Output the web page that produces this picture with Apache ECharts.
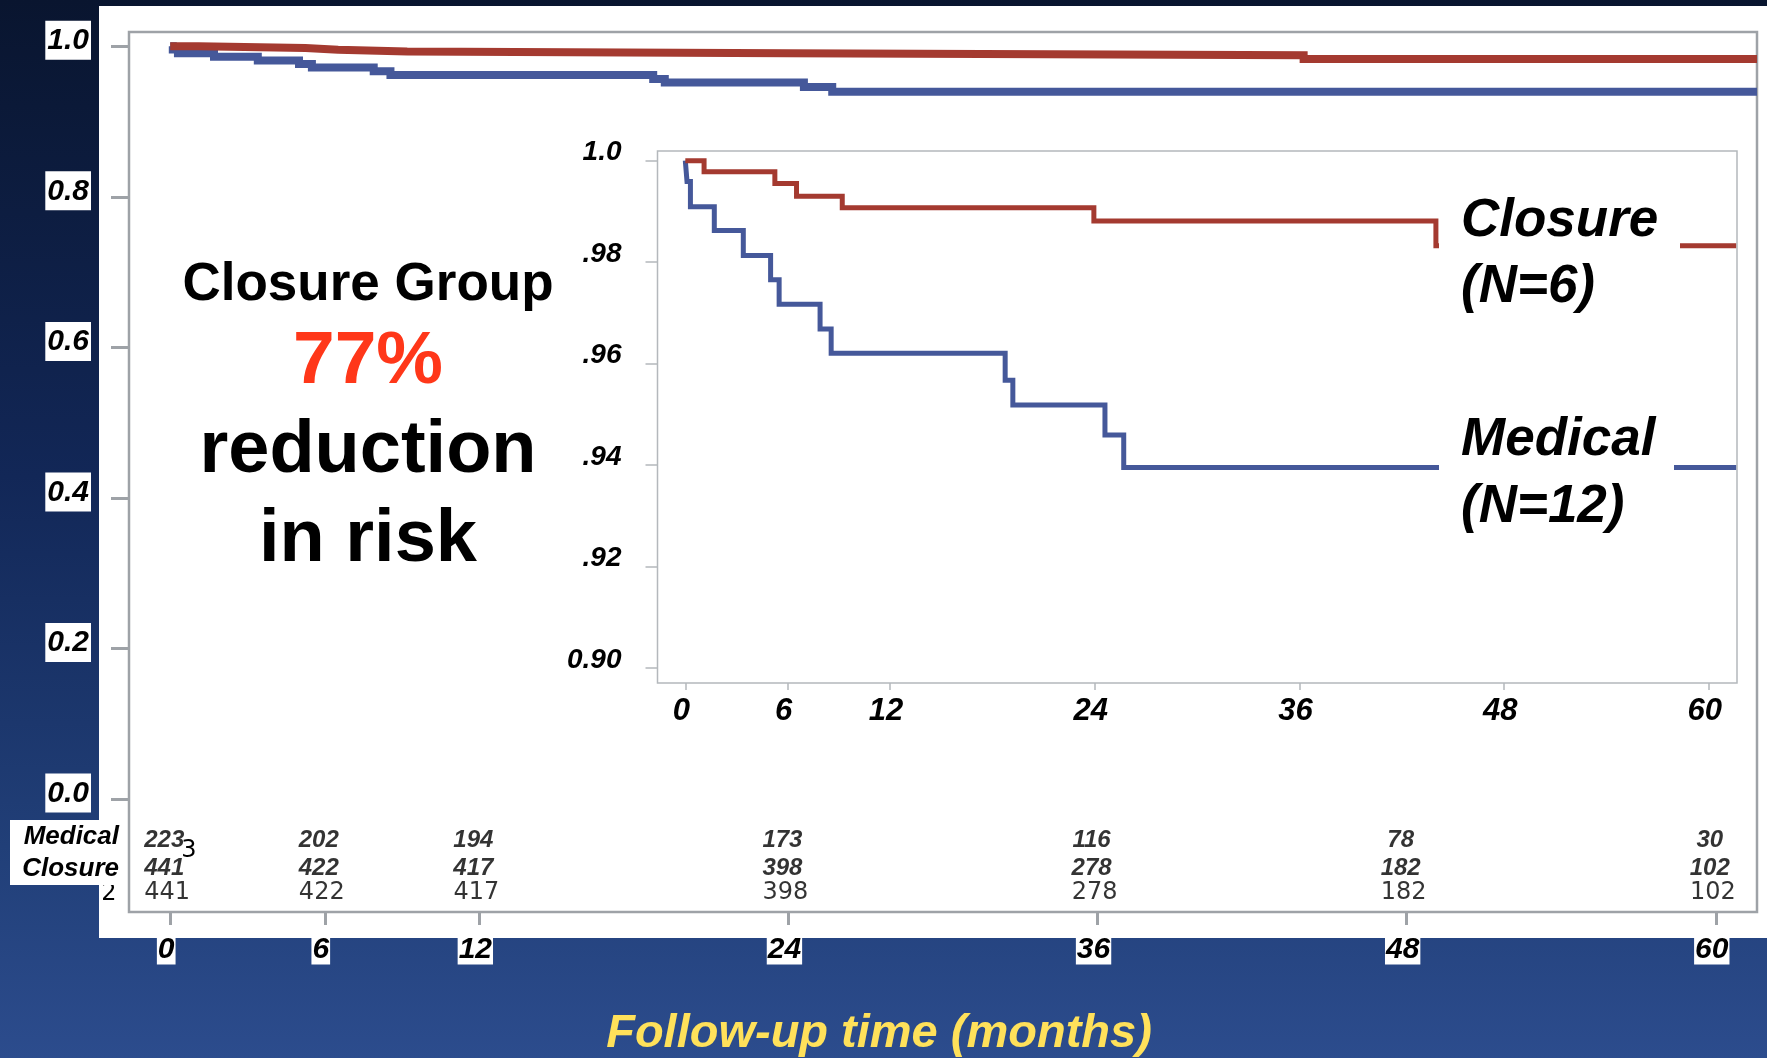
<!DOCTYPE html>
<html><head><meta charset="utf-8">
<script src="https://cdn.jsdelivr.net/npm/echarts@6/dist/echarts.min.js"></script>
<style>
html,body{margin:0;padding:0;width:1767px;height:1058px;overflow:hidden;}
#c{width:1767px;height:1058px;background:linear-gradient(to bottom,#09152f 0%,#122757 45%,#213f78 80%,#2c4c8d 100%);}
</style></head><body><div id="c"></div>
<script>
// ---- data ----
const medicalTime = [0, 0.1, 0.3, 1.7, 3.4, 5.0, 5.5, 7.9, 8.55, 18.75, 19.2, 24.6, 25.7, 61.6];
const medicalSurv = [1.0, 0.9959, 0.9909, 0.9862, 0.9813, 0.9765, 0.9717, 0.9668, 0.9620, 0.9567, 0.9518, 0.9459, 0.9395, 0.9395];
const closureTime = [0, 1.1, 5.25, 6.52, 9.2, 23.95, 44.0, 61.6];
const closureSurv = [1.0, 0.9978, 0.9955, 0.9930, 0.9907, 0.9881, 0.9832, 0.9832];

const xTicks = [0, 6, 12, 24, 36, 48, 60];
const xTickLabels = ['0', '6', '12', '24', '36', '48', '60'];
const outerYTicks = [0, 0.2, 0.4, 0.6, 0.8, 1.0];
const outerYLabels = ['0.0', '0.2', '0.4', '0.6', '0.8', '1.0'];
const innerYTicks = [0.90, 0.92, 0.94, 0.96, 0.98, 1.0];
const innerYLabels = ['0.90', '.92', '.94', '.96', '.98', '1.0'];

const riskMonths = [0, 6, 12, 24, 36, 48, 60];
const riskMedical = [223, 202, 194, 173, 116, 78, 30];
const riskClosure = [441, 422, 417, 398, 278, 182, 102];
const riskClosureRepeat = [441, 422, 417, 398, 278, 182, 102];

// ---- styles ----
const FONT = '"Liberation Sans", Arial, Helvetica, sans-serif';
const RED = '#a43a30';
const BLUE = '#45589a';
const OUTER_GRAY = '#9ea2a7';
const INNER_GRAY = '#b4b8bc';

function lab(ticks, labels, v) {
  for (let i = 0; i < ticks.length; i++) if (Math.abs(ticks[i] - v) < 1e-6) return labels[i];
  return '';
}
function pts(t, s) { return t.map((x, i) => [x, s[i]]); }

const boldItalic = (size, extra) => Object.assign({
  fontFamily: FONT, fontSize: size, fontWeight: 'bold', fontStyle: 'italic', color: '#000', lineHeight: size
}, extra || {});

function lineSeries(name, t, s, color, width, axisIdx, z) {
  return {
    name, type: 'line', step: 'end', xAxisIndex: axisIdx, yAxisIndex: axisIdx,
    data: pts(t, s), showSymbol: false, symbol: 'none', silent: true, z: z,
    lineStyle: { color, width, join: 'miter', cap: 'butt' },
    emphasis: { disabled: true }
  };
}

// risk table rows placed on the outer axes (row levels below 0.0)
const ROW_Y = [-0.0543, -0.0924, -0.1248];
function riskSeries(values, rowY, labelStyle, dx) {
  return {
    type: 'scatter', xAxisIndex: 0, yAxisIndex: 0, symbolSize: 1, silent: true, z: 6,
    itemStyle: { color: 'rgba(0,0,0,0)' },
    data: riskMonths.map((m) => [m, rowY]),
    label: Object.assign({
      show: true, position: 'inside', offset: [dx, 0],
      formatter: (p) => String(values[p.dataIndex])
    }, labelStyle),
    emphasis: { disabled: true }
  };
}

const chart = echarts.init(document.getElementById('c'), null, { renderer: 'canvas' });

const noLine = { show: false, onZero: false };

const option = {
  animation: false,
  backgroundColor: 'transparent',
  grid: [
    { left: 129, top: 32, width: 1628, height: 880, show: true, borderColor: OUTER_GRAY, borderWidth: 2.5, outerBoundsMode: 'none', containLabel: false },
    { left: 657.5, top: 151, width: 1079.5, height: 532, show: true, borderColor: INNER_GRAY, borderWidth: 1.5, outerBoundsMode: 'none', containLabel: false }
  ],
  xAxis: [
    {
      type: 'value', gridIndex: 0, min: -1.6, max: 61.6, position: 'bottom',
      axisLine: noLine, splitLine: { show: false },
      axisTick: { show: true, inside: false, customValues: xTicks, length: 13, lineStyle: { color: OUTER_GRAY, width: 3 } },
      axisLabel: {
        show: true, customValues: xTicks, margin: 22,
        formatter: (v) => '{a|' + lab(xTicks, xTickLabels, v) + '}{t| }',
        rich: {
          a: boldItalic(30, { backgroundColor: '#fff', padding: [1, 1, 0, 1] }),
          t: { width: 8, fontSize: 10 }
        }
      }
    },
    {
      type: 'value', gridIndex: 1, min: -1.63, max: 61.65, position: 'bottom',
      axisLine: noLine, splitLine: { show: false },
      axisTick: { show: true, inside: false, customValues: xTicks, length: 7, lineStyle: { color: INNER_GRAY, width: 1.5 } },
      axisLabel: {
        show: true, customValues: xTicks, margin: 13,
        formatter: (v) => '{a|' + lab(xTicks, xTickLabels, v) + '}{t| }',
        rich: { a: boldItalic(31), t: { width: 8, fontSize: 10 } }
      }
    }
  ],
  yAxis: [
    {
      type: 'value', gridIndex: 0, min: -0.150, max: 1.019, position: 'left',
      axisLine: noLine, splitLine: { show: false },
      axisTick: { show: true, inside: false, customValues: outerYTicks, length: 18, lineStyle: { color: OUTER_GRAY, width: 3 } },
      axisLabel: {
        show: true, customValues: outerYTicks, margin: 38,
        formatter: (v) => '{a|' + lab(outerYTicks, outerYLabels, v) + '}\n{s| }',
        rich: {
          a: boldItalic(30, { backgroundColor: '#fff', padding: [5, 2, 4, 2] }),
          s: { height: 12, lineHeight: 12, fontSize: 8 }
        }
      }
    },
    {
      type: 'value', gridIndex: 1, min: 0.8970, max: 1.0019, position: 'left',
      axisLine: noLine, splitLine: { show: false },
      axisTick: { show: true, inside: false, customValues: innerYTicks, length: 12, lineStyle: { color: INNER_GRAY, width: 1.5 } },
      axisLabel: {
        show: true, customValues: innerYTicks, margin: 36,
        formatter: (v) => '{a|' + lab(innerYTicks, innerYLabels, v) + '}\n{s| }',
        rich: { a: boldItalic(28), s: { height: 16, lineHeight: 16, fontSize: 8 } }
      }
    }
  ],
  series: [
    lineSeries('Medical', medicalTime, medicalSurv, BLUE, 8, 0, 3),
    lineSeries('Closure', closureTime, closureSurv, RED, 8, 0, 4),
    lineSeries('Medical inset', medicalTime, medicalSurv, BLUE, 5, 1, 3),
    lineSeries('Closure inset', closureTime, closureSurv, RED, 5, 1, 4),
    riskSeries(riskMedical, ROW_Y[0], { fontFamily: FONT, fontSize: 24, fontWeight: 'bold', fontStyle: 'italic', color: '#000' }, -6),
    riskSeries(riskClosure, ROW_Y[1], { fontFamily: FONT, fontSize: 24, fontWeight: 'bold', fontStyle: 'italic', color: '#000' }, -6),
    riskSeries(riskClosureRepeat, ROW_Y[2], { fontFamily: '"DejaVu Sans", sans-serif', fontSize: 24, fontWeight: 'normal', color: '#000' }, -3)
  ],
  graphic: [
    // white slide panel
    { type: 'rect', z: -100, shape: { x: 99, y: 6, width: 1668, height: 932 }, style: { fill: '#ffffff' }, silent: true },
    // left text block
    { type: 'text', z: 50, x: 368, y: 285, style: { text: 'Closure Group', font: 'bold 53px ' + FONT, fill: '#000', align: 'center', verticalAlign: 'middle', textAlign: 'center', textVerticalAlign: 'middle' } },
    { type: 'text', z: 50, x: 368, y: 362, style: { text: '77%', font: 'bold 75px ' + FONT, fill: '#ff3719', align: 'center', verticalAlign: 'middle', textAlign: 'center', textVerticalAlign: 'middle' } },
    { type: 'text', z: 50, x: 368, y: 452, style: { text: 'reduction', font: 'bold 74px ' + FONT, fill: '#000', align: 'center', verticalAlign: 'middle', textAlign: 'center', textVerticalAlign: 'middle' } },
    { type: 'text', z: 50, x: 368, y: 541, style: { text: 'in risk', font: 'bold 74px ' + FONT, fill: '#000', align: 'center', verticalAlign: 'middle', textAlign: 'center', textVerticalAlign: 'middle' } },
    // inset curve labels on white boxes
    { type: 'rect', z: 60, shape: { x: 1439, y: 180, width: 241, height: 140 }, style: { fill: '#fff' }, silent: true },
    { type: 'rect', z: 60, shape: { x: 1439, y: 400, width: 235, height: 140 }, style: { fill: '#fff' }, silent: true },
    { type: 'text', z: 61, x: 1461, y: 221, style: { text: 'Closure', font: 'italic bold 53px ' + FONT, fill: '#000', align: 'left', verticalAlign: 'middle', textAlign: 'left', textVerticalAlign: 'middle' } },
    { type: 'text', z: 61, x: 1461, y: 287, style: { text: '(N=6)', font: 'italic bold 53px ' + FONT, fill: '#000', align: 'left', verticalAlign: 'middle', textAlign: 'left', textVerticalAlign: 'middle' } },
    { type: 'text', z: 61, x: 1461, y: 440, style: { text: 'Medical', font: 'italic bold 53px ' + FONT, fill: '#000', align: 'left', verticalAlign: 'middle', textAlign: 'left', textVerticalAlign: 'middle' } },
    { type: 'text', z: 61, x: 1461, y: 507, style: { text: '(N=12)', font: 'italic bold 53px ' + FONT, fill: '#000', align: 'left', verticalAlign: 'middle', textAlign: 'left', textVerticalAlign: 'middle' } },
    // risk table stray glyphs
    { type: 'text', z: 70, x: 189, y: 851, style: { text: '3', font: '24px "DejaVu Sans", sans-serif', fill: '#000', align: 'center', verticalAlign: 'middle', textAlign: 'center', textVerticalAlign: 'middle' } },
    { type: 'text', z: 70, x: 109, y: 894, style: { text: '2', font: '24px "DejaVu Sans", sans-serif', fill: '#000', align: 'center', verticalAlign: 'middle', textAlign: 'center', textVerticalAlign: 'middle' } },
    // risk table row labels
    { type: 'rect', z: 80, shape: { x: 10, y: 820, width: 113, height: 65 }, style: { fill: '#fff' }, silent: true },
    { type: 'text', z: 81, x: 119, y: 837, style: { text: 'Medical', font: 'italic bold 26px ' + FONT, fill: '#000', align: 'right', verticalAlign: 'middle', textAlign: 'right', textVerticalAlign: 'middle' } },
    { type: 'text', z: 81, x: 119, y: 869, style: { text: 'Closure', font: 'italic bold 26px ' + FONT, fill: '#000', align: 'right', verticalAlign: 'middle', textAlign: 'right', textVerticalAlign: 'middle' } },
    // axis title
    { type: 'text', z: 50, x: 879, y: 1034, style: { text: 'Follow-up time (months)', font: 'italic bold 47px ' + FONT, fill: '#ffe15a', align: 'center', verticalAlign: 'middle', textAlign: 'center', textVerticalAlign: 'middle' } }
  ]
};
chart.setOption(option);
</script>
</body></html>
